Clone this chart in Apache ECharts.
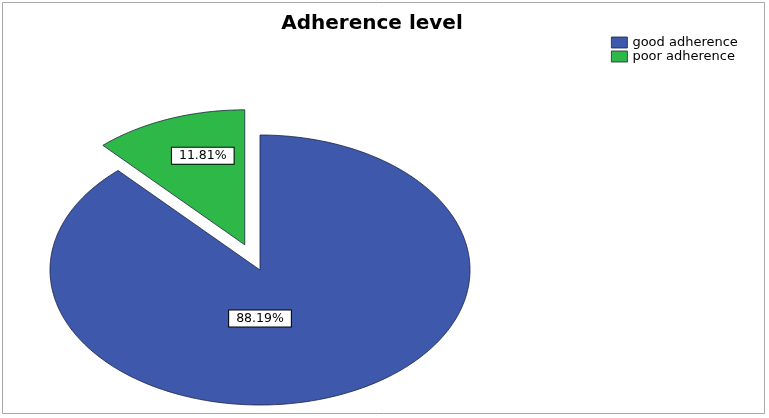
<!DOCTYPE html>
<html><head><meta charset="utf-8">
<script src="https://cdn.jsdelivr.net/npm/echarts@6/dist/echarts.min.js"></script>
<style>html,body{margin:0;padding:0;background:#fff}#c{width:769px;height:418px}</style>
</head><body><div id="c"></div>
<script>
const categories = ['good adherence', 'poor adherence'];
const percentValues = [88.19, 11.81];
const chartTitle = 'Adherence level';

const colors = ['#3e58ac', '#2eb848'];
const explode = [0, 0.2];
const labelAnchor = [[0, 0.36], [-0.2, -0.66]];
const CX = 260, CY = 270, RX = 210, RY = 135;
const total = percentValues.reduce((a, b) => a + b, 0);

function makeRender(si) {
  return function (params, api) {
    const v = api.value(0);
    let start = 0;
    for (let i = 0; i < si; i++) start += percentValues[i];
    const a0 = start / total * 2 * Math.PI;
    const a1 = (start + v) / total * 2 * Math.PI;
    const am = (a0 + a1) / 2;
    const cx = CX + explode[si] * RX * Math.sin(am);
    const cy = CY - explode[si] * RY * Math.cos(am);
    const pts = [[cx, cy]];
    const n = Math.max(8, Math.ceil((a1 - a0) / (Math.PI / 180)));
    for (let k = 0; k <= n; k++) {
      const a = a0 + (a1 - a0) * k / n;
      pts.push([cx + RX * Math.sin(a), cy - RY * Math.cos(a)]);
    }
    const la = labelAnchor[si];
    return {
      type: 'group',
      children: [
        { type: 'polygon', shape: { points: pts },
          style: { fill: api.visual('color'), stroke: '#1c2340', lineWidth: 0.8 } },
        { type: 'text', x: cx + la[0] * RX, y: cy + la[1] * RY, z2: 10,
          style: { text: v.toFixed(2) + '%', fill: '#000', fontSize: 12.5, fontFamily: 'DejaVu Sans',
            align: 'center', verticalAlign: 'middle', backgroundColor: '#fff',
            borderColor: '#000', borderWidth: 1, padding: [2, 7, 1, 7] } }
      ]
    };
  };
}

const chart = echarts.init(document.getElementById('c'), null, { renderer: 'canvas' });
chart.setOption({
  animation: false,
  backgroundColor: '#fff',
  title: {
    text: chartTitle, left: 367, top: 9, textAlign: 'center',
    textStyle: { fontSize: 20, fontWeight: 'bold', color: '#000', fontFamily: 'DejaVu Sans' }
  },
  legend: {
    orient: 'vertical', left: 606, top: 31, itemGap: 1, itemWidth: 16, itemHeight: 11,
    icon: 'rect', data: categories,
    itemStyle: { borderColor: '#1c2340', borderWidth: 0.8 },
    textStyle: { fontSize: 13, color: '#000', fontFamily: 'DejaVu Sans', lineHeight: 12 }
  },
  graphic: [{
    type: 'rect', shape: { x: 2.5, y: 2.5, width: 762, height: 411 },
    style: { fill: 'none', stroke: '#a8a8a8', lineWidth: 1 }, silent: true
  }],
  series: categories.map((name, i) => ({
    type: 'custom', name: name, coordinateSystem: 'none',
    data: [[percentValues[i]]],
    itemStyle: { color: colors[i] },
    renderItem: makeRender(i)
  }))
});
</script></body></html>
